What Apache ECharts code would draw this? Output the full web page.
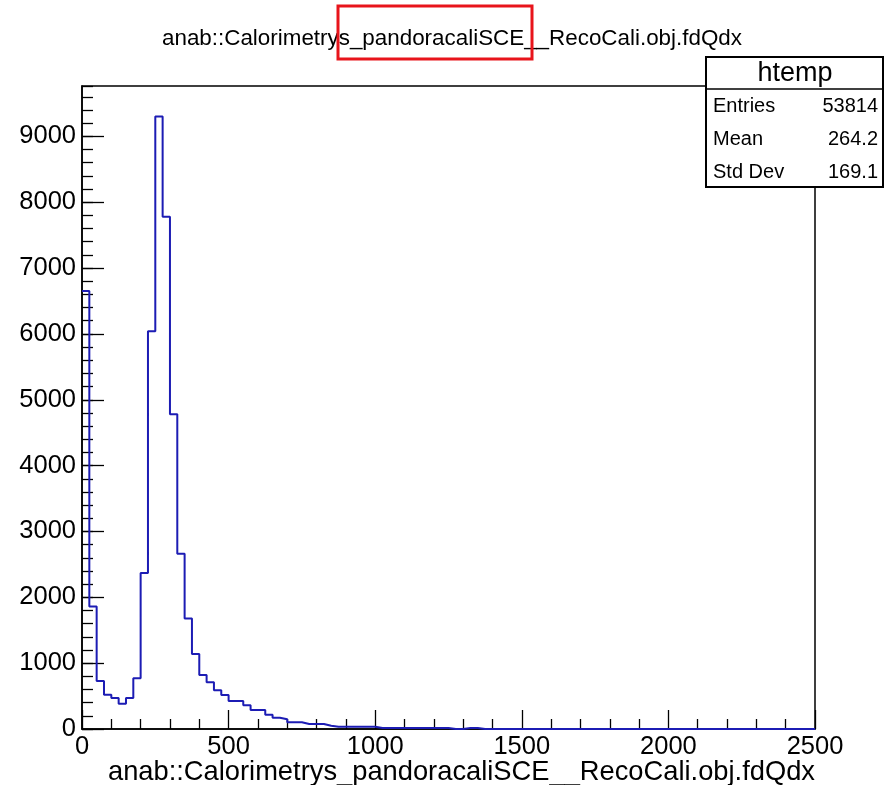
<!DOCTYPE html>
<html>
<head>
<meta charset="utf-8">
<script src="https://cdn.jsdelivr.net/npm/echarts@6/dist/echarts.min.js"></script>
<style>html,body{margin:0;padding:0;background:#fff;}#c{width:889px;height:785px;}</style>
</head>
<body>
<div id="c"></div>
<script>
// ---- data ----
const chartTitle = 'anab::Calorimetrys_pandoracaliSCE__RecoCali.obj.fdQdx';
const xAxisTitle = 'anab::Calorimetrys_pandoracaliSCE__RecoCali.obj.fdQdx';
const binWidth = 25;
const xMin = 0, xMax = 2500;
const yMax = 9765;
const counts = [
  6650, 1860, 730, 520, 470, 385, 470, 770, 2370, 6040,
  9300, 7780, 4780, 2660, 1680, 1140, 820, 710, 590, 515,
  425, 425, 360, 288, 288, 218, 172, 147, 101, 101,
  76, 76, 76, 50, 35, 35, 35, 35, 35, 35,
  15, 15, 15, 15, 15, 15, 15, 15, 15, 15,
  0, 0, 15, 15, 0, 0, 0, 0, 0, 0,
  0, 0, 0, 0, 0, 0, 0, 0, 0, 0,
  0, 0, 0, 0, 0, 0, 0, 0, 0, 0,
  0, 0, 0, 0, 0, 0, 0, 0, 0, 0,
  0, 0, 0, 0, 0, 0, 0, 0, 0, 0
];
const statsName = 'htemp';
const statsLabels = ['Entries', 'Mean', 'Std Dev'];
const statsValues = ['53814', '264.2', '169.1'];

// ---- build step outline from bins ----
const stepPts = [];
counts.forEach((v, i) => {
  stepPts.push([xMin + i * binWidth, v]);
  stepPts.push([xMin + (i + 1) * binWidth, v]);
});

const FONT = '"Liberation Sans", Arial, Helvetica, sans-serif';
const chart = echarts.init(document.getElementById('c'), null, {renderer: 'canvas'});

const statsGraphics = [];
statsGraphics.push({type: 'rect', shape: {x: 706, y: 57, width: 177, height: 130},
  style: {fill: '#fff', stroke: '#000', lineWidth: 2}, z: 100});
statsGraphics.push({type: 'line', shape: {x1: 706, y1: 89, x2: 883, y2: 89},
  style: {stroke: '#000', lineWidth: 1.5}, z: 101});
statsGraphics.push({type: 'text', x: 795, y: 74, z: 102,
  style: {text: statsName, fill: '#000', font: '27px ' + FONT, textAlign: 'center', textVerticalAlign: 'middle'}});
statsLabels.forEach((l, i) => {
  const y = 106 + i * 33;
  statsGraphics.push({type: 'text', x: 713, y: y, z: 102,
    style: {text: l, fill: '#000', font: '20px ' + FONT, textAlign: 'left', textVerticalAlign: 'middle'}});
  statsGraphics.push({type: 'text', x: 878, y: y, z: 102,
    style: {text: statsValues[i], fill: '#000', font: '20px ' + FONT, textAlign: 'right', textVerticalAlign: 'middle'}});
});

const plain = v => String(v);

const option = {
  backgroundColor: '#fff',
  animation: false,
  title: {
    text: chartTitle, left: 157, top: 23,
    textStyle: {fontFamily: FONT, fontSize: 22.4, fontWeight: 'normal', color: '#000'}
  },
  grid: {left: 82, right: 74, top: 86, bottom: 56, show: true, borderColor: '#000', borderWidth: 1.5,
    backgroundColor: 'transparent', containLabel: false, outerBoundsMode: 'none'},
  xAxis: {
    type: 'value', min: xMin, max: xMax, interval: 500,
    axisLine: {show: true, lineStyle: {color: '#000', width: 1.5}},
    axisTick: {show: true, inside: true, length: 19, lineStyle: {color: '#000', width: 1.3}},
    minorTick: {show: true, splitNumber: 5, length: 10, lineStyle: {color: '#000', width: 1.3}},
    axisLabel: {fontFamily: FONT, fontSize: 25.5, color: '#000', margin: 5, formatter: plain},
    splitLine: {show: false}
  },
  yAxis: [{
    type: 'value', min: 0, max: yMax, interval: 1000,
    axisLine: {show: true, lineStyle: {color: '#000', width: 1.5}},
    axisTick: {show: true, inside: true, length: 22, lineStyle: {color: '#000', width: 1.3}},
    axisLabel: {fontFamily: FONT, fontSize: 25.5, color: '#000', margin: 6, showMaxLabel: false, formatter: plain},
    splitLine: {show: false}
  }, {
    type: 'value', min: 0, max: yMax, interval: 200, position: 'left', offset: 0,
    axisLine: {show: false},
    axisTick: {show: true, inside: true, length: 11, lineStyle: {color: '#000', width: 1.3}},
    axisLabel: {show: false},
    splitLine: {show: false}
  }],
  series: [{
    type: 'line', data: stepPts, xAxisIndex: 0, yAxisIndex: 0,
    showSymbol: false, symbol: 'none',
    lineStyle: {color: '#1c1cb4', width: 2},
    z: 3, clip: true
  }],
  graphic: [
    {type: 'text', x: 815, y: 772, z: 50,
      style: {text: xAxisTitle, fill: '#000', font: '27.3px ' + FONT, textAlign: 'right', textVerticalAlign: 'middle'}},
    {type: 'rect', shape: {x: 338, y: 6, width: 194, height: 53},
      style: {fill: 'none', stroke: '#e8141b', lineWidth: 3}, z: 60}
  ].concat(statsGraphics)
};
chart.setOption(option);
</script>
</body>
</html>
